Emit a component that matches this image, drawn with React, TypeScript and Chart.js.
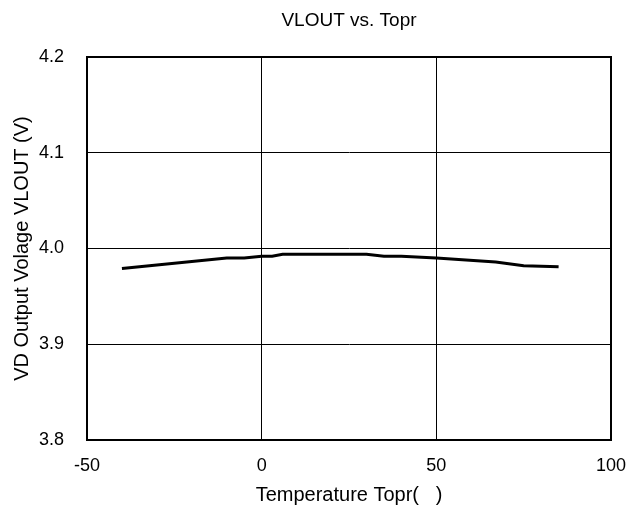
import React, { useEffect, useRef } from "react";
import { Chart, registerables } from "chart.js";

Chart.register(...registerables);

const temperatures = [-40, -10, -5, 0, 3, 6, 30, 35, 40, 50, 67, 75, 85];
const vlout = [3.979, 3.990, 3.990, 3.992, 3.992, 3.994, 3.994, 3.992, 3.992, 3.990, 3.986, 3.982, 3.981];
const xTicks = [-50, 0, 50, 100];
const yTicks = [3.8, 3.9, 4.0, 4.1, 4.2];
const chartTitle = "VLOUT vs. Topr";
const xTitle = "Temperature Topr(   )";
const yTitle = "VD Output Volage VLOUT (V)";

const FONT = "Arial, 'Liberation Sans', sans-serif";

export default function App() {
  const ref = useRef<HTMLCanvasElement>(null);
  useEffect(() => {
    if (!ref.current) return;
    const chart = new Chart(ref.current, {
      type: "scatter",
      data: {
        datasets: [
          {
            data: temperatures.map((t, i) => ({ x: t, y: vlout[i] })),
            showLine: true,
            borderColor: "#000",
            borderWidth: 3,
            pointRadius: 0,
            tension: 0,
          },
        ],
      },
      options: {
        responsive: false,
        animation: false,
        layout: { padding: { left: 0, right: 22, top: 0, bottom: 0 } },
        plugins: {
          legend: { display: false },
          tooltip: { enabled: false },
          title: {
            display: true,
            fullSize: false,
            text: chartTitle,
            color: "#000",
            font: { family: FONT, size: 19, weight: "normal" },
            padding: { top: 9, bottom: 25.2 },
          },
        },
        scales: {
          x: {
            type: "linear",
            min: -50,
            max: 100,
            afterBuildTicks: (s: any) => {
              s.ticks = xTicks.map((v) => ({ value: v }));
            },
            afterFit: (s: any) => {
              s.height = 67;
              s.paddingLeft = 0;
              s.paddingRight = 0;
            },
            grid: { color: "#000", lineWidth: 1, drawTicks: false },
            border: { color: "#000", width: 2 },
            ticks: {
              color: "#000",
              padding: 15,
              font: { family: FONT, size: 18 },
              maxRotation: 0,
            },
            title: {
              display: true,
              text: xTitle,
              color: "#000",
              font: { family: FONT, size: 20 },
              padding: { top: 0, bottom: 0 },
            },
          },
          y: {
            type: "linear",
            min: 3.8,
            max: 4.2,
            afterBuildTicks: (s: any) => {
              s.ticks = yTicks.map((v) => ({ value: v }));
            },
            afterFit: (s: any) => {
              s.width = 87;
            },
            grid: { color: "#000", lineWidth: 1, drawTicks: false },
            border: { color: "#000", width: 2 },
            ticks: {
              color: "#000",
              padding: 23,
              font: { family: FONT, size: 18 },
              callback: (v: any) => Number(v).toFixed(1),
            },
            title: {
              display: true,
              text: yTitle,
              color: "#000",
              font: { family: FONT, size: 20 },
              padding: { top: 10, bottom: 0 },
            },
          },
        },
      },
      plugins: [
        {
          id: "frame",
          afterDraw: (c: any) => {
            const { ctx, chartArea: a } = c;
            ctx.save();
            ctx.strokeStyle = "#000";
            ctx.lineWidth = 2;
            ctx.strokeRect(a.left, a.top, a.right - a.left, a.bottom - a.top);
            ctx.restore();
          },
        },
      ],
    });
    return () => chart.destroy();
  }, []);
  return (
    <div style={{ position: "fixed", left: 0, top: 0, width: 633, height: 507, background: "#fff" }}>
      <canvas ref={ref} width={633} height={507} style={{ display: "block" }} />
    </div>
  );
}
